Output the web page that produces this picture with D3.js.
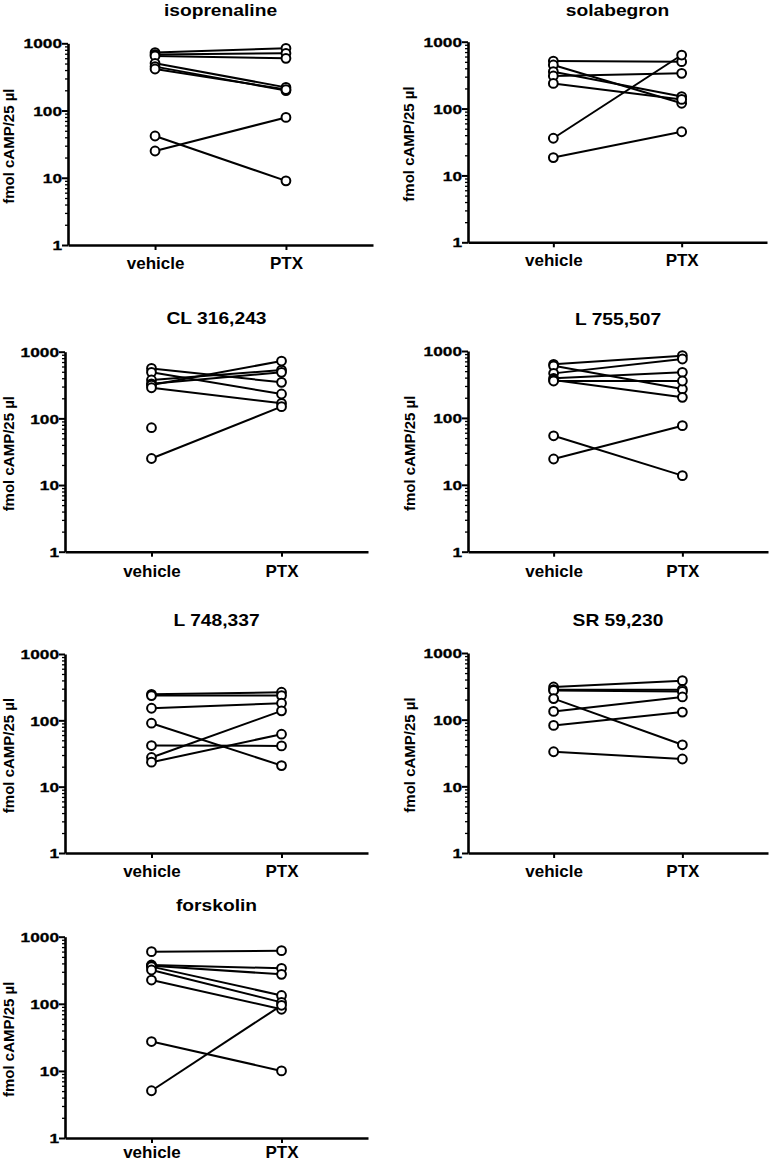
<!DOCTYPE html>
<html>
<head>
<meta charset="utf-8">
<script src="https://cdn.jsdelivr.net/npm/d3@7"></script>
<style>
  html, body { margin: 0; padding: 0; background: #fff; }
  svg { display: block; }
  text { font-family: "Liberation Sans", Arial, Helvetica, sans-serif; font-weight: bold; fill: #000; }
</style>
</head>
<body>
<svg id="chart" width="772" height="1162"></svg>
<script>
// ---------------- data ----------------
const categories = ["vehicle", "PTX"];
const yTickValues = [1, 10, 100, 1000];
const yAxisTitle = "fmol cAMP/25 µl";
const panelTitles = ["isoprenaline", "solabegron", "CL 316,243", "L 755,507", "L 748,337", "SR 59,230", "forskolin"];

const isoprenalineVehicle = [727, 680, 648, 504, 450, 415, 41.8, 25];
const isoprenalinePTX     = [843, 710, 598, 221, 198, 205, 9, 79];

const solabegronVehicle = [514, 448, 356, 307, 238, 36, 18.5];
const solabegronPTX     = [502, 120, 151, 336, 137, 632, 45];

const cl316243Vehicle = [562, 490, 376, 330, 316, 288, 72.4, 25];
const cl316243PTX     = [347, 232, 531, 490, 724, 168, null, 150];

const l755507Vehicle = [632, 600, 463, 390, 370, 356, 54, 24.3];
const l755507PTX     = [851, 270, 759, 480, 203, 356, 13.7, 76.5];

const l748337Vehicle = [247, 236, 152, 90.5, 41.7, 27.5, 23.4];
const l748337PTX     = [265, 236, 181, 20.8, 41.2, 139, 61.8];

const sr59230Vehicle = [309, 282, 275, 207, 133, 82, 33];
const sr59230PTX     = [385, 282, 265, 42, 219, 130, 25.7];

const forskolinVehicle = [598, 379, 370, 358, 319, 226, 27.4, 5.06];
const forskolinPTX     = [619, 338, 275, 133, 105, 83, 10, 95];

const vehicleSeries = [isoprenalineVehicle, solabegronVehicle, cl316243Vehicle, l755507Vehicle, l748337Vehicle, sr59230Vehicle, forskolinVehicle];
const ptxSeries     = [isoprenalinePTX, solabegronPTX, cl316243PTX, l755507PTX, l748337PTX, sr59230PTX, forskolinPTX];

// ---------------- layout ----------------
const layout = [
  { left: 68,  top: 43.3,  bottom: 245,    width: 305, titleY: 16,  catY: 24, yLabX: 14 },
  { left: 468, top: 41.7,  bottom: 242.3,  width: 299, titleY: 16,  catY: 24, yLabX: 414 },
  { left: 65,  top: 351.7, bottom: 551.7,  width: 303, titleY: 324, catY: 25, yLabX: 14 },
  { left: 468, top: 351,   bottom: 551.7,  width: 300, titleY: 325, catY: 25, yLabX: 415 },
  { left: 65,  top: 654,   bottom: 853,    width: 303, titleY: 626, catY: 24, yLabX: 14 },
  { left: 468, top: 653,   bottom: 853,    width: 300, titleY: 626, catY: 24, yLabX: 415 },
  { left: 65,  top: 936.7, bottom: 1138,   width: 303, titleY: 911, catY: 19.5, yLabX: 14 }
];
const titleStretch = 1.13;

const svg = d3.select("#chart");

const minorTicks = [];
for (let d = 1; d < 1000; d *= 10) for (let k = 2; k <= 9; k++) minorTicks.push(d * k);

panelTitles.forEach((title, i) => {
  const L = layout[i];
  const g = svg.append("g");

  const y = d3.scaleLog().domain([1, 1000]).range([L.bottom, L.top]);
  const x = d3.scalePoint().domain(categories).range([L.left, L.left + L.width]).padding(0.665);

  // minor y ticks
  const minorAxis = g.append("g").attr("transform", `translate(${L.left},0)`)
    .call(d3.axisLeft(y).tickValues(minorTicks).tickSize(3).tickSizeOuter(0).tickFormat(""));
  minorAxis.select(".domain").remove();
  minorAxis.selectAll("line").attr("stroke", "#000").attr("stroke-width", 1.3);

  // major y axis
  const yAxis = g.append("g").attr("transform", `translate(${L.left},0)`)
    .call(d3.axisLeft(y).tickValues(yTickValues).tickSize(6).tickSizeOuter(0).tickFormat(d3.format("d")));
  yAxis.select(".domain").attr("stroke", "#000").attr("stroke-width", 2.6);
  yAxis.selectAll("line").attr("stroke", "#000").attr("stroke-width", 2);
  yAxis.selectAll("text")
    .attr("x", -6).attr("dy", "0.36em")
    .attr("font-size", 13)
    .attr("textLength", d => String(d).length * 9.6)
    .attr("lengthAdjust", "spacingAndGlyphs")
    .attr("stroke", "#000").attr("stroke-width", 0.3)
    .style("font-family", '"Liberation Sans", Arial, sans-serif')
    .style("font-weight", "bold");

  // x axis
  const xAxis = g.append("g").attr("transform", `translate(0,${L.bottom})`)
    .call(d3.axisBottom(x).tickSize(5).tickSizeOuter(0));
  xAxis.select(".domain").attr("stroke", "#000").attr("stroke-width", 2.6);
  xAxis.selectAll("line").attr("stroke", "#000").attr("stroke-width", 2);
  xAxis.selectAll("text")
    .attr("y", L.catY).attr("dy", 0)
    .attr("font-size", 17)
    .style("font-family", '"Liberation Sans", Arial, sans-serif')
    .style("font-weight", "bold");

  // title
  const t = g.append("text")
    .attr("x", L.left + L.width / 2).attr("y", L.titleY)
    .attr("text-anchor", "middle").attr("font-size", 17)
    .text(title);
  const natural = t.node().getComputedTextLength();
  t.attr("textLength", natural * titleStretch).attr("lengthAdjust", "spacingAndGlyphs");

  // y axis title
  const midY = (L.top + L.bottom) / 2 + 2;
  g.append("text")
    .attr("transform", `translate(${L.yLabX},${midY}) rotate(-90)`)
    .attr("text-anchor", "middle").attr("font-size", 15)
    .text(yAxisTitle);

  // paired data
  const veh = vehicleSeries[i], ptx = ptxSeries[i];
  const pairs = veh.map((v, k) => [v, ptx[k]]);
  const line = d3.line().x(d => x(d.c)).y(d => y(d.v));

  g.append("g").selectAll("path")
    .data(pairs.filter(p => p[0] != null && p[1] != null))
    .join("path")
    .attr("d", p => line([{ c: categories[0], v: p[0] }, { c: categories[1], v: p[1] }]))
    .attr("fill", "none").attr("stroke", "#000").attr("stroke-width", 2);

  const pts = [];
  pairs.forEach(p => {
    if (p[0] != null) pts.push({ c: categories[0], v: p[0] });
    if (p[1] != null) pts.push({ c: categories[1], v: p[1] });
  });
  g.append("g").selectAll("circle")
    .data(pts).join("circle")
    .attr("cx", d => x(d.c)).attr("cy", d => y(d.v)).attr("r", 4.4)
    .attr("fill", "#fff").attr("stroke", "#000").attr("stroke-width", 2);
});
</script>
</body>
</html>
